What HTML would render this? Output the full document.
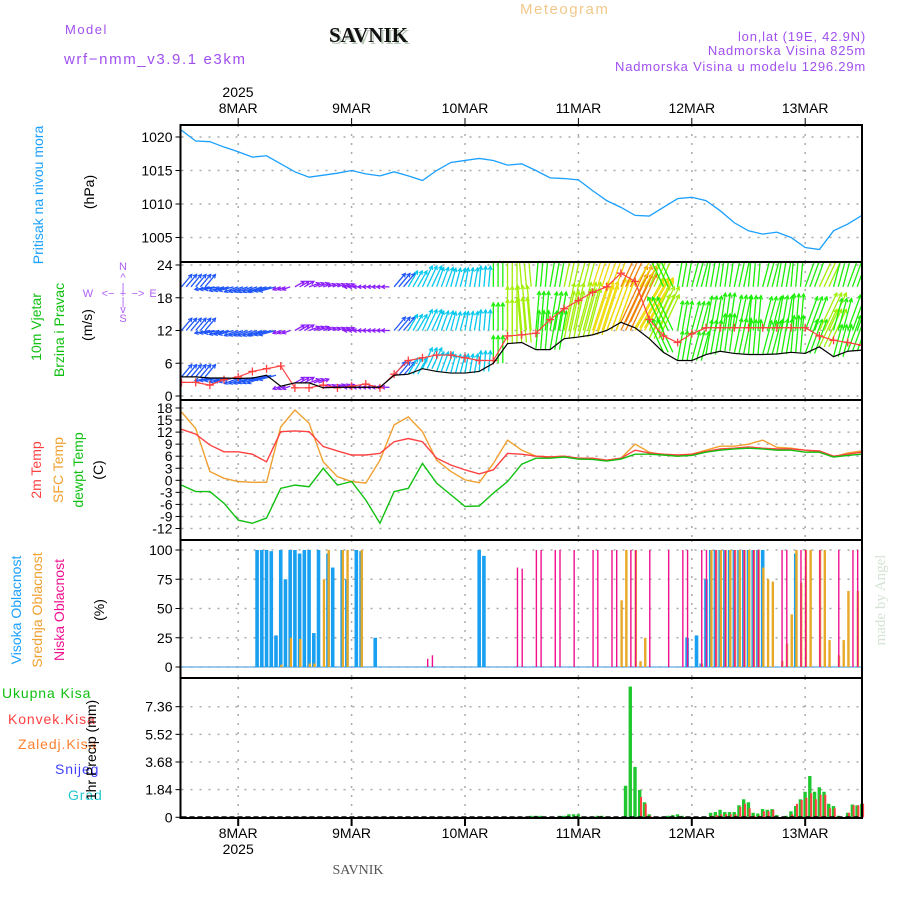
<!DOCTYPE html>
<html><head><meta charset="utf-8"><title>SAVNIK Meteogram</title>
<style>
html,body{margin:0;padding:0;background:#fff;}
svg{display:block;font-family:"Liberation Sans",sans-serif;}
</style></head>
<body>
<svg id="chart" width="900" height="900" viewBox="0 0 900 900" xmlns="http://www.w3.org/2000/svg">
<rect x="0" y="0" width="900" height="900" fill="#fff"/>
<text x="65" y="34" font-size="13" fill="#a050f0" letter-spacing="1.5">Model</text>
<text x="64" y="64" font-size="15" fill="#a050f0" letter-spacing="1.6">wrf−nmm_v3.9.1 e3km</text>
<text x="331" y="44" font-size="21" font-weight="bold" font-family="Liberation Serif,serif" fill="#b8c8b8">SAVNIK</text>
<text x="329" y="42" font-size="21" font-weight="bold" font-family="Liberation Serif,serif" fill="#111">SAVNIK</text>
<text x="520" y="14" font-size="15" fill="#f2c88a" letter-spacing="1.5">Meteogram</text>
<text x="866" y="41" font-size="13" fill="#a050f0" text-anchor="end" letter-spacing="0.8">lon,lat (19E, 42.9N)</text>
<text x="866" y="55" font-size="13" fill="#a050f0" text-anchor="end" letter-spacing="0.8">Nadmorska Visina 825m</text>
<text x="866" y="71" font-size="13" fill="#a050f0" text-anchor="end" letter-spacing="0.8">Nadmorska Visina u modelu 1296.29m</text>
<text x="238" y="97" font-size="14" text-anchor="middle">2025</text>
<text x="358" y="874" font-size="14" font-family="Liberation Serif,serif" fill="#555" text-anchor="middle">SAVNIK</text>
<text transform="translate(885,600) rotate(-90)" font-size="15" font-family="Liberation Serif,serif" fill="#d5e3d5" text-anchor="middle">made by Angel</text>

<text transform="translate(43,195) rotate(-90)" font-size="14" fill="#1aa0ff" text-anchor="middle">Pritisak na nivou mora</text>
<text transform="translate(94,192) rotate(-90)" font-size="14" text-anchor="middle">(hPa)</text>
<text transform="translate(41,327) rotate(-90)" font-size="14" fill="#10c010" text-anchor="middle">10m Vjetar</text>
<text transform="translate(64,330) rotate(-90)" font-size="14" fill="#10c010" text-anchor="middle">Brzina i Pravac</text>
<text transform="translate(92,325) rotate(-90)" font-size="14" text-anchor="middle">(m/s)</text>
<g font-size="11" fill="#b060f0" text-anchor="middle">
<text x="123" y="270">N</text><text x="123" y="281">^</text><text x="123" y="291">|</text>
<text x="88" y="297">W</text><text x="108" y="297">&lt;−</text><text x="123" y="297">+</text><text x="138" y="297">−&gt;</text><text x="153" y="297">E</text>
<text x="123" y="305">|</text><text x="123" y="313">v</text><text x="123" y="322">S</text>
</g>
<text transform="translate(41,470) rotate(-90)" font-size="14" fill="#ff4040" text-anchor="middle">2m Temp</text>
<text transform="translate(63,470) rotate(-90)" font-size="14" fill="#f0a030" text-anchor="middle">SFC Temp</text>
<text transform="translate(83,470) rotate(-90)" font-size="14" fill="#10c010" text-anchor="middle">dewpt Temp</text>
<text transform="translate(103,470) rotate(-90)" font-size="14" text-anchor="middle">(C)</text>
<text transform="translate(21,610) rotate(-90)" font-size="14" fill="#1aa0ff" text-anchor="middle">Visoka Oblacnost</text>
<text transform="translate(42,610) rotate(-90)" font-size="14" fill="#f0a030" text-anchor="middle">Srednja Oblacnost</text>
<text transform="translate(64,610) rotate(-90)" font-size="14" fill="#f0108f" text-anchor="middle">Niska Oblacnost</text>
<text transform="translate(104,610) rotate(-90)" font-size="14" text-anchor="middle">(%)</text>
<g font-size="14" letter-spacing="0.9">
<text x="2" y="698" fill="#10c010">Ukupna Kisa</text>
<text x="8" y="724" fill="#ff4040">Konvek.Kisa</text>
<text x="18" y="749" fill="#ff8030">Zaledj.Kisa</text>
<text x="55" y="774" fill="#4040ff">Snijeg</text>
<text x="68" y="800" fill="#20c8d0">Grad</text>
</g>
<text transform="translate(96,750) rotate(-90)" font-size="14" text-anchor="middle">1hr Precip (mm)</text>
<g id="layer"></g>
</svg>
<script>
// ---- data (3-hourly from 7MAR 12UTC, hours 0..144) ----
const hours3 = [0,3,6,9,12,15,18,21,24,27,30,33,36,39,42,45,48,51,54,57,60,63,66,69,72,75,78,81,84,87,90,93,96,99,102,105,108,111,114,117,120,123,126,129,132,135,138,141,144];
const pressure = [1021,1019.4,1019.3,1018.5,1017.8,1017,1017.2,1016,1014.8,1014,1014.3,1014.6,1015,1014.5,1014.2,1014.8,1014.2,1013.5,1015,1016.2,1016.5,1016.8,1016.5,1015.8,1016,1015,1013.9,1013.8,1013.6,1012,1010.5,1009.5,1008.3,1008.2,1009.5,1010.8,1011,1010.5,1009,1007.2,1006,1005.5,1005.8,1005,1003.5,1003.2,1006,1007,1008.3];
const windSpeed = [3.5,3.5,3.3,3.3,3.2,3.3,3.8,1.8,2.4,2.4,1.5,1.6,1.6,1.6,1.6,3.8,4.0,5.0,4.5,4.2,4.2,4.5,6,9.6,9.8,8.5,8.5,10.5,10.8,11.2,12,13.5,12.5,10.5,8,6.5,6.5,7.6,8.2,7.8,7.6,7.6,7.7,8,7.8,9,7.2,8.2,8.4];
const windGust = [2.5,2.5,2,3,3.5,4.5,5,5.5,1.5,1.5,2,1.5,1.8,2.2,1.5,4,6.5,7,7.5,7.5,7,6.5,6.5,11,11.2,11.5,14,16,17.5,19,20,22.5,21,14,11,9.8,11.4,12.5,12.5,12.5,12.5,12.5,12.5,12.5,12.5,11,10.2,9.8,9.3];
const windDirTo = [40,40,260,255,250,250,255,250,60,70,70,70,270,270,270,40,30,25,20,15,10,5,0,0,355,5,10,12,15,18,20,25,30,25,335,10,15,10,8,12,5,15,10,5,20,25,15,20,30];
const temp2m = [12.7,11.5,8.8,7.1,7.1,6.5,4.6,12.1,12.3,12.1,8.4,7.3,6.3,6.3,6.7,9.6,10.4,9.6,5.5,3.8,2.6,1.6,2.6,6.7,6.5,6,5.8,6,5.5,5.5,5,5.5,7.5,6.8,6.5,6.3,6.5,7.2,7.8,8,8.3,8,7.8,7.8,7.5,7.3,6,6.5,7];
const tempSfc = [17,12.9,2.2,0.5,-0.3,-0.5,-0.5,13.3,17.5,14.2,4.6,0.9,-0.3,-0.7,5,13.8,15.8,12.1,5,2.2,0.1,-0.6,4.2,10,7.5,6,5.8,6,5.3,5.3,5,5.5,9,7,6.3,6,6.5,7.5,8.5,8.5,9,10,8.2,8,7.5,7,5.8,6.8,7.3];
const dewpt = [-1.2,-2.8,-2.8,-5.7,-9.9,-10.7,-9.4,-2,-1.2,-1.6,3,-1.2,-0.3,-4.9,-10.7,-2.8,-2,4.2,-0.7,-3.6,-6.5,-6.4,-3.2,-0.3,4,5.5,5.5,5.8,5.3,5.2,4.8,5.3,6.5,6.5,6.3,6,6.2,7,7.5,7.8,8,7.8,7.5,7.5,7,7,5.8,6.2,6.5];
const highHours = [16,17,18,19,20,21,22,23,24,25,26,27,28,29,31,32,34,35,37,38,41,63,64,107,109,110,111,112,113,114,115,116,117,118,119,120,121,122,123,130];
const highVals  = [100,100,100,99,27,100,75,100,100,97,100,100,29,100,97,85,100,75,100,99,25,100,95,25,27,3,75,100,100,100,100,100,100,100,100,100,100,100,100,97,5];
const midHours = [21,23,25,27,28,30,31,34,35,38,93,94,96,97,98,110,112,113,114,115,116,117,118,119,120,121,122,123,124,125,127,128,129,130,131,132,133,135,136,137,139,140,141,143];
const midVals  = [2,25,24,3,3,75,100,100,100,100,57,100,100,5,25,3,100,100,100,100,100,100,100,100,100,100,100,85,75,73,5,20,45,100,72,100,100,100,100,23,10,23,65,65];
const lowHours = [52,53,71,72,75,76,79,80,83,87,88,91,92,95,96,99,103,106,107,110,111,113,115,117,119,121,122,127,128,131,132,135,139,142,143];
const lowVals  = [7,10,85,84,100,100,100,100,100,100,100,100,100,100,100,100,100,100,100,100,100,100,100,100,100,100,100,100,100,100,100,100,100,100,100];
const precipHours = [74,75,76,80,81,82,83,84,88,89,94,95,96,97,98,99,103,104,105,106,112,113,114,115,116,117,118,119,120,121,122,123,124,125,126,128,129,130,131,132,133,134,135,136,137,138,139,141,142,143,144];
const precipTotal = [0.1,0.1,0.1,0.1,0.1,0.2,0.2,0.2,0.1,0.1,2.1,8.7,3.35,1.82,1.0,0.2,0.1,0.15,0.2,0.1,0.3,0.35,0.5,0.35,0.35,0.35,0.8,1.2,1.0,0.3,0.25,0.55,0.5,0.55,0.15,0.1,0.4,0.75,1.2,1.7,2.75,1.7,2.0,1.7,0.9,0.75,0.1,0.3,0.85,0.8,0.9];
const precipConv  = [0,0,0,0,0,0,0,0,0,0,0,0,0,1.35,0.9,0.1,0,0,0,0,0.1,0.15,0.2,0.2,0.2,0.2,0.7,0.9,0.6,0.1,0.1,0.4,0.4,0.5,0,0,0.2,0.9,1.15,1.3,1.6,1.2,1.5,1.5,0.6,0.6,0,0.3,0.8,0.8,0.9];
const dayLabels = ["8MAR","9MAR","10MAR","11MAR","12MAR","13MAR"];
const dayHours = [12,36,60,84,108,132];
const pTicks = [1005,1010,1015,1020];
const wTicks = [0,6,12,18,24];
const tTicks = [-12,-9,-6,-3,0,3,6,9,12,15,18];
const cTicks = [0,25,50,75,100];
const rTicks = [0,1.84,3.68,5.52,7.36];

const NS="http://www.w3.org/2000/svg";
const L=181.5, R=862, PXH=4.725;
const X=h=>L+h*PXH;
const panels={p:[125,262],w:[262,400],t:[400,540],c:[540,678],r:[678,818]};
const lin=(v0,y0,v1,y1)=>v=>y0+(v-v0)*(y1-y0)/(v1-v0);
const Yp=lin(1005,237.5,1020,137);
const Yw=lin(0,396,24,265);
const Yt=lin(0,480.3,18,408);
const Yc=lin(0,667,100,550);
const Yr=lin(0,817.3,7.36,706.7);
const layer=document.getElementById('layer');
function mk(tag,attrs,parent){const e=document.createElementNS(NS,tag);for(const k in attrs)e.setAttribute(k,attrs[k]);(parent||layer).appendChild(e);return e;}
const defs=mk('defs',{});
for(const k in panels){const [t,b]=panels[k];const cp=mk('clipPath',{id:'clip-'+k},defs);mk('rect',{x:L,y:t,width:R-L,height:b-t},cp);}

function grid(key,ticks,Y,fmt){
  const [t,b]=panels[key];
  const g=mk('g',{});
  
  
  ticks.forEach(v=>{const y=Y(v);
    const gl=mk('line',{x1:L,x2:R,y1:y,y2:y,stroke:'#aaa','stroke-width':1.5,'stroke-dasharray':'2 7'},g);
    
    
    mk('line',{x1:L-6,x2:L,y1:y,y2:y,stroke:'#000','stroke-width':1},g);
    const tl=mk('text',{x:L-9,y:y+5,'font-size':14,'text-anchor':'end'},g);tl.textContent=fmt(v);
    
    
  });
  dayHours.forEach(h=>{const x=X(h);
    const vl=mk('line',{x1:x,x2:x,y1:t,y2:b,stroke:'#aaa','stroke-width':1.5,'stroke-dasharray':'2 7'},g);
    
    });
}
grid('p',pTicks,Yp,v=>v);
grid('w',wTicks,Yw,v=>v);
grid('t',tTicks,Yt,v=>v);
grid('c',cTicks,Yc,v=>v);
grid('r',rTicks,Yr,v=>v===0?'0':v.toFixed(2));

const pl=mk('polyline',{points:hours3.map((h,i)=>X(h)+','+Yp(pressure[i])).join(' '),fill:'none',stroke:'#1aa0ff','stroke-width':1.3,'clip-path':'url(#clip-p)'});



// ---- wind arrows (each 3-hour record drawn as 3 hourly arrows) ----
function windColor(s){let hue; if(s<2.5)hue=270;else if(s<4)hue=225;else if(s<6)hue=190;else if(s<9)hue=115;else if(s<11)hue=80;else if(s<13)hue=55;else if(s<16)hue=32;else if(s<19)hue=5;else hue=330;return 'hsl('+hue+',95%,'+(hue>200?'55%':'48%')+')';}
const wg=mk('g',{'clip-path':'url(#clip-w)'});


hours3.forEach((h,i)=>{
  const s=windSpeed[i],d=windDirTo[i]*Math.PI/180,len=Math.max(8,s*4.6);
  const col=windColor(s);
  for(let k=0;k<3;k++){
    if(h+k>144)break;
    [s,12,20].forEach(base=>{
      const x0=X(h+k),y0=Yw(base),x1=x0+Math.sin(d)*len,y1=y0-Math.cos(d)*len;
      const a=mk('line',{x1:x0,y1:y0,x2:x1,y2:y1,stroke:col,'stroke-width':1.3},wg);
      
      
      const hl=4,aa=0.5;
      mk('path',{d:`M${x1-Math.sin(d-aa)*hl},${y1+Math.cos(d-aa)*hl} L${x1},${y1} L${x1-Math.sin(d+aa)*hl},${y1+Math.cos(d+aa)*hl}`,fill:'none',stroke:col,'stroke-width':1.2},wg);
    });
  }
});
const gl=mk('polyline',{points:hours3.map((h,i)=>X(h)+','+Yw(windGust[i])).join(' '),fill:'none',stroke:'#ff4040','stroke-width':1.2,'clip-path':'url(#clip-w)'});


hours3.forEach((h,i)=>{const x=X(h),y=Yw(windGust[i]);
  const p=mk('path',{d:`M${x-4},${y}H${x+4}M${x},${y-4}V${y+4}`,stroke:'#ff4040','stroke-width':1.3,'clip-path':'url(#clip-w)'});
  
  });
const sl=mk('polyline',{points:hours3.map((h,i)=>X(h)+','+Yw(windSpeed[i])).join(' '),fill:'none',stroke:'#000','stroke-width':1.2,'clip-path':'url(#clip-w)'});



[[tempSfc,'#f0a030','sfc-temp-line'],[temp2m,'#ff4040','temp-2m-line'],[dewpt,'#10c010','dewpoint-line']].forEach(([arr,c,n])=>{
  const l=mk('polyline',{points:hours3.map((h,i)=>X(h)+','+Yt(arr[i])).join(' '),fill:'none',stroke:c,'stroke-width':1.4,'clip-path':'url(#clip-t)'});
  
  
});

const bl=mk('line',{x1:L,x2:R,y1:Yc(0),y2:Yc(0),stroke:'#7ab8e8','stroke-width':1.5});


highHours.forEach((h,i)=>{const v=highVals[i];
  const r=mk('rect',{x:X(h)-1.8,y:Yc(v),width:3.6,height:Yc(0)-Yc(v),fill:'#1aa0f0'});
  
  });
midHours.forEach((h,i)=>{const v=midVals[i];
  const r=mk('rect',{x:X(h)-0.5,y:Yc(v),width:2.4,height:Yc(0)-Yc(v),fill:'#e8a828'});
  
  });
lowHours.forEach((h,i)=>{const v=lowVals[i];
  const r=mk('rect',{x:X(h)-0.2,y:Yc(v),width:1.4,height:Yc(0)-Yc(v),fill:'#f0108f'});
  
  });

precipHours.forEach((h,i)=>{const v=precipTotal[i],c=precipConv[i];
  const r=mk('rect',{x:X(h)-1.8,y:Yr(v),width:3.4,height:Yr(0)-Yr(v),fill:'#20c830'});
  
  
  if(c>0){const rc=mk('rect',{x:X(h)+0.2,y:Yr(c),width:2,height:Yr(0)-Yr(c),fill:'#ff4040'});
  
  }
});
const pb=mk('line',{x1:L,x2:R,y1:817,y2:817,stroke:'#000','stroke-width':1.5,'stroke-dasharray':'5 3'});



for(const k in panels){const [t,b]=panels[k];
  const f=mk('rect',{x:L-1,y:t,width:R-L+1,height:b-t,fill:'none',stroke:'#000','stroke-width':2});
  
  }
dayHours.forEach((h,i)=>{const x=X(h);
  mk('line',{x1:x,x2:x,y1:118,y2:125,stroke:'#000'});
  mk('line',{x1:x,x2:x,y1:818,y2:826,stroke:'#000','stroke-width':2});
  const t1=mk('text',{x:x,y:113,'font-size':14,'text-anchor':'middle'});t1.textContent=dayLabels[i];
  
  
  const t2=mk('text',{x:x,y:838,'font-size':14,'text-anchor':'middle'});t2.textContent=dayLabels[i];
  
  
});
const yr=mk('text',{x:X(12),y:854,'font-size':14,'text-anchor':'middle'});yr.textContent='2025';


</script>
</body></html>
